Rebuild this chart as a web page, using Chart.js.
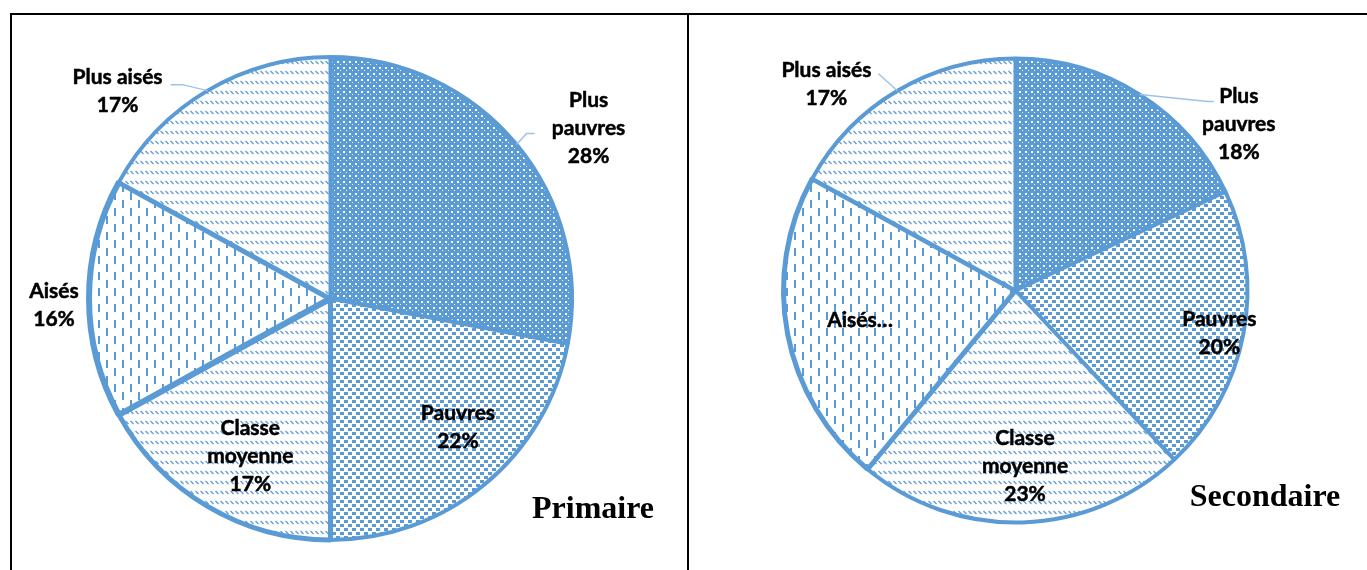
<!DOCTYPE html>
<html>
<head>
<meta charset="utf-8">
<script src="https://cdn.jsdelivr.net/npm/chart.js@4.4.1/dist/chart.umd.min.js"></script>
<style>
    html, body { margin: 0; padding: 0; background: #fff; }
    body { width: 1367px; height: 570px; position: relative; overflow: hidden; }
    .rule { position: absolute; background: #000; }
    .cell { position: absolute; top: 0; height: 570px; }
    .title { position: absolute; font: bold 32px "Liberation Serif", "Times New Roman", serif; line-height: 32px; color: #000; white-space: nowrap; transform: translateX(-50%); }
</style>
</head>
<body>
<div class="rule" style="left:10px; top:13px; width:1357px; height:2px;"></div>
<div class="rule" style="left:10px; top:13px; width:2px; height:557px;"></div>
<div class="rule" style="left:687px; top:13px; width:2px; height:557px;"></div>

<div class="cell" style="left:0; width:688px;"><canvas id="pie-primaire" width="688" height="570"></canvas></div>
<div class="cell" style="left:688px; width:679px;"><canvas id="pie-secondaire" width="679" height="570"></canvas></div>

<div class="title" style="left:593px; top:491px;">Primaire</div>
<div class="title" style="left:1265px; top:479px;">Secondaire</div>

<script>
    "use strict";

    // Data
    var categories = ["Plus pauvres", "Pauvres", "Classe moyenne", "Aisés", "Plus aisés"];
    var primaire = [28, 22, 17, 16, 17];
    var secondaire = [18, 20, 23, 22, 17];

    var blue = "#5B9BD5";
    var leaderColor = "#9DC3E6";
    var labelFont = "bold 21px Lato, 'Open Sans', sans-serif";
    var lineHeight = 28;


    // Fill patterns (Excel style)
    function makePattern(w, h, draw) {
        var c = document.createElement("canvas");
        c.width = w;
        c.height = h;
        var g = c.getContext("2d");
        draw(g);
        return g.createPattern(c, "repeat");
    }

    var dots = makePattern(6, 6, function (g) {
        g.fillStyle = blue;
        g.fillRect(0, 0, 6, 6);
        g.fillStyle = "#fff";
        g.fillRect(1, 1, 2, 2);
        g.fillRect(4, 4, 1, 1);
    });
    var checker = makePattern(8, 8, function (g) {
        g.fillStyle = "#fff";
        g.fillRect(0, 0, 8, 8);
        g.fillStyle = blue;
        g.fillRect(0, 0, 4, 3);
        g.fillRect(4, 4, 4, 3);
    });
    var diagDash = makePattern(5, 10, function (g) {
        g.fillStyle = "#fff";
        g.fillRect(0, 0, 5, 10);
        g.strokeStyle = blue;
        g.lineWidth = 1.2;
        g.beginPath();
        g.moveTo(0.5, 1);
        g.lineTo(3.5, 4);
        g.stroke();
    });
    var vertDash = makePattern(16, 16, function (g) {
        g.fillStyle = "#fff";
        g.fillRect(0, 0, 16, 16);
        g.fillStyle = blue;
        g.fillRect(2, 0, 2, 8);
        g.fillRect(10, 8, 2, 8);
    });
    var fills = [dots, checker, diagDash, vertDash, diagDash];


    // Label placement: f = fraction of radius along mid angle, dx/dy shift,
    // leader = end of leader line relative to label centre, wrap = break name
    var placePrimaire = [
        {f: 1, dx: 72, dy: -16, wrap: true, leader: [-54, 5], elbow: -8},
        {f: 0.75, dx: 12, dy: -11, wrap: false},
        {f: 0.75, dx: 12, dy: 2, wrap: true},
        {f: 1, dx: -35, dy: 7, wrap: false},
        {f: 1, dx: -90, dy: 1, wrap: false, leader: [53, -7], elbow: 12}
    ];
    var placeSecondaire = [
        {f: 1, dx: 99, dy: 30, wrap: true, leader: [-25, -23], elbow: -6},
        {f: 0.89, dx: 1, dy: 4, wrap: false},
        {f: 0.76, dx: 4, dy: 0, wrap: true},
        {f: 0.66, dx: -5, dy: 1, wrap: false, cut: true},
        {f: 1, dx: -71, dy: -7, wrap: false, leader: [52, -10], elbow: 0}
    ];

    var pieLabels = {
        id: "pieLabels",
        afterDatasetsDraw: function (chart, args, opts) {
            var ctx = chart.ctx;
            var meta = chart.getDatasetMeta(0);
            var values = chart.data.datasets[0].data;
            ctx.save();
            ctx.font = labelFont;
            ctx.textAlign = "center";
            ctx.textBaseline = "middle";
            meta.data.forEach(function (arc, i) {
                var p = arc.getProps(["x", "y", "startAngle", "endAngle", "outerRadius"], true);
                var pl = opts.place[i];
                var mid = (p.startAngle + p.endAngle) / 2;
                var ex = p.x + Math.cos(mid) * p.outerRadius;
                var ey = p.y + Math.sin(mid) * p.outerRadius;
                var cx = p.x + Math.cos(mid) * p.outerRadius * pl.f + pl.dx;
                var cy = p.y + Math.sin(mid) * p.outerRadius * pl.f + pl.dy;

                var name = chart.data.labels[i];
                var lines;
                if (pl.cut) {
                    lines = [name + "…"];
                } else {
                    lines = pl.wrap ? name.split(" ") : [name];
                    lines.push(values[i] + "%");
                }

                if (pl.leader) {
                    var lx = cx + pl.leader[0], ly = cy + pl.leader[1];
                    ctx.strokeStyle = leaderColor;
                    ctx.lineWidth = 1.5;
                    ctx.beginPath();
                    ctx.moveTo(ex, ey);
                    ctx.lineTo(lx + pl.elbow, ly);
                    ctx.lineTo(lx, ly);
                    ctx.stroke();
                }

                ctx.fillStyle = "#000";
                ctx.strokeStyle = "#000";
                ctx.lineWidth = 0.5;
                lines.forEach(function (t, k) {
                    var ty = cy + (k - (lines.length - 1) / 2) * lineHeight;
                    ctx.fillText(t, cx, ty);
                    ctx.strokeText(t, cx, ty);
                });
            });
            ctx.restore();
        }
    };

    function drawPie(id, values, place, borders, padding) {
        var ctx = document.getElementById(id).getContext("2d");
        return new Chart(ctx, {
            type: "pie",
            data: {
                labels: categories,
                datasets: [{
                    data: values,
                    backgroundColor: fills,
                    borderColor: blue,
                    borderWidth: borders
                }]
            },
            options: {
                responsive: false,
                animation: false,
                events: [],
                layout: {padding: padding},
                plugins: {
                    legend: {display: false},
                    tooltip: {enabled: false},
                    pieLabels: {place: place}
                }
            },
            plugins: [pieLabels]
        });
    }

    // Primaire
    drawPie("pie-primaire", primaire, placePrimaire, [4, 4, 5, 6, 4],
        {left: 86, right: 113, top: 54, bottom: 27});

    // Secondaire
    drawPie("pie-secondaire", secondaire, placeSecondaire, [4, 4, 4, 5, 4],
        {left: 93, right: 117, top: 56, bottom: 45});
</script>
</body>
</html>
